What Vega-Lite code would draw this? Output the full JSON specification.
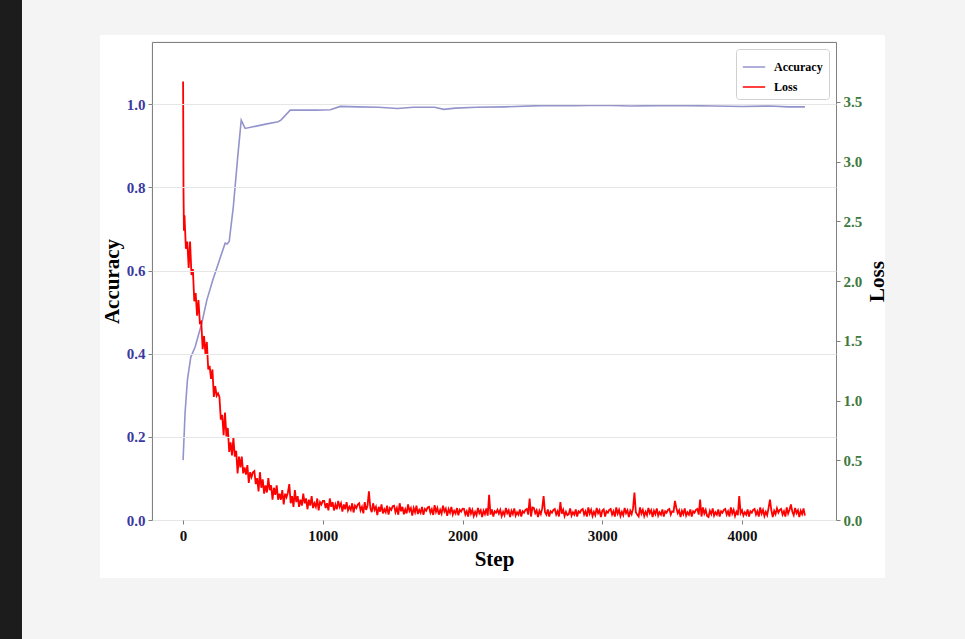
{
  "$schema": "https://vega.github.io/schema/vega-lite/v6.json",
  "width": 684,
  "height": 478,
  "autosize": "none",
  "padding": {"left": 152, "top": 42, "right": 129, "bottom": 119},
  "background": "#f4f4f4",
  "config": {
    "view": {"fill": "white", "stroke": "#808080", "strokeWidth": 1},
    "font": "Liberation Serif",
    "axis": {"grid": false, "domain": false, "labelFont": "Liberation Serif", "labelFontWeight": "bold", "labelFontSize": 15, "titleFont": "Liberation Serif", "titleFontWeight": "bold", "titleFontSize": 21, "titleColor": "#000", "tickColor": "#808080", "tickSize": 4, "labelPadding": 3}
  },
  "datasets": {
    "acc": [
      {"Step": 0, "Accuracy": 0.144}, {"Step": 14, "Accuracy": 0.257}, {"Step": 31, "Accuracy": 0.337}, {"Step": 55, "Accuracy": 0.392},
      {"Step": 86, "Accuracy": 0.416}, {"Step": 134, "Accuracy": 0.474}, {"Step": 170, "Accuracy": 0.529}, {"Step": 212, "Accuracy": 0.577},
      {"Step": 260, "Accuracy": 0.625}, {"Step": 301, "Accuracy": 0.666}, {"Step": 315, "Accuracy": 0.664}, {"Step": 330, "Accuracy": 0.670},
      {"Step": 360, "Accuracy": 0.755}, {"Step": 390, "Accuracy": 0.870}, {"Step": 416, "Accuracy": 0.962}, {"Step": 444, "Accuracy": 0.942},
      {"Step": 500, "Accuracy": 0.946}, {"Step": 600, "Accuracy": 0.953}, {"Step": 680, "Accuracy": 0.958}, {"Step": 700, "Accuracy": 0.962},
      {"Step": 767, "Accuracy": 0.986}, {"Step": 850, "Accuracy": 0.986}, {"Step": 950, "Accuracy": 0.986}, {"Step": 1054, "Accuracy": 0.987},
      {"Step": 1125, "Accuracy": 0.995}, {"Step": 1250, "Accuracy": 0.994}, {"Step": 1400, "Accuracy": 0.993}, {"Step": 1532, "Accuracy": 0.990},
      {"Step": 1650, "Accuracy": 0.993}, {"Step": 1800, "Accuracy": 0.993}, {"Step": 1866, "Accuracy": 0.988}, {"Step": 1950, "Accuracy": 0.991},
      {"Step": 2100, "Accuracy": 0.993}, {"Step": 2300, "Accuracy": 0.994}, {"Step": 2560, "Accuracy": 0.997}, {"Step": 2800, "Accuracy": 0.997},
      {"Step": 3000, "Accuracy": 0.998}, {"Step": 3200, "Accuracy": 0.996}, {"Step": 3400, "Accuracy": 0.997}, {"Step": 3600, "Accuracy": 0.997},
      {"Step": 3800, "Accuracy": 0.996}, {"Step": 4000, "Accuracy": 0.995}, {"Step": 4200, "Accuracy": 0.996}, {"Step": 4330, "Accuracy": 0.994},
      {"Step": 4450, "Accuracy": 0.994}
    ],
    "loss": [
      {"Step":0,"Loss":3.67},{"Step":3,"Loss":2.75},{"Step":6,"Loss":2.42},{"Step":10,"Loss":2.55},{"Step":20,"Loss":2.27},{"Step":30,"Loss":2.33},{"Step":40,"Loss":2.11},{"Step":50,"Loss":2.33},{"Step":60,"Loss":2.05},{"Step":70,"Loss":2.10},{"Step":80,"Loss":1.83},{"Step":90,"Loss":1.90},{"Step":100,"Loss":1.71},
      {"Step":110,"Loss":1.84},{"Step":120,"Loss":1.65},{"Step":130,"Loss":1.66},{"Step":140,"Loss":1.43},{"Step":150,"Loss":1.54},{"Step":160,"Loss":1.39},{"Step":170,"Loss":1.49},{"Step":180,"Loss":1.26},{"Step":190,"Loss":1.29},{"Step":200,"Loss":1.18},
      {"Step":210,"Loss":1.26},{"Step":220,"Loss":1.03},{"Step":230,"Loss":1.12},{"Step":240,"Loss":1.04},{"Step":250,"Loss":1.06},{"Step":260,"Loss":1.03},{"Step":270,"Loss":0.84},{"Step":280,"Loss":0.88},{"Step":290,"Loss":0.71},{"Step":300,"Loss":0.90},
      {"Step":310,"Loss":0.70},{"Step":320,"Loss":0.77},{"Step":330,"Loss":0.57},{"Step":340,"Loss":0.65},{"Step":350,"Loss":0.54},{"Step":360,"Loss":0.69},{"Step":370,"Loss":0.53},{"Step":380,"Loss":0.58},{"Step":390,"Loss":0.39},{"Step":400,"Loss":0.53},
      {"Step":410,"Loss":0.44},{"Step":420,"Loss":0.53},{"Step":430,"Loss":0.39},{"Step":440,"Loss":0.44},{"Step":450,"Loss":0.38},{"Step":460,"Loss":0.46},{"Step":470,"Loss":0.31},{"Step":480,"Loss":0.40},{"Step":490,"Loss":0.36},{"Step":500,"Loss":0.40},
      {"Step":510,"Loss":0.41},{"Step":520,"Loss":0.30},{"Step":530,"Loss":0.35},{"Step":540,"Loss":0.24},{"Step":550,"Loss":0.40},{"Step":560,"Loss":0.27},{"Step":570,"Loss":0.34},{"Step":580,"Loss":0.22},{"Step":590,"Loss":0.29},{"Step":600,"Loss":0.23},
      {"Step":610,"Loss":0.35},{"Step":620,"Loss":0.25},{"Step":630,"Loss":0.29},{"Step":640,"Loss":0.17},{"Step":650,"Loss":0.27},{"Step":660,"Loss":0.21},{"Step":670,"Loss":0.29},{"Step":680,"Loss":0.17},{"Step":690,"Loss":0.22},{"Step":700,"Loss":0.17},
      {"Step":710,"Loss":0.25},{"Step":720,"Loss":0.13},{"Step":730,"Loss":0.22},{"Step":740,"Loss":0.19},{"Step":750,"Loss":0.23},{"Step":760,"Loss":0.30},{"Step":770,"Loss":0.14},{"Step":780,"Loss":0.20},{"Step":790,"Loss":0.11},{"Step":800,"Loss":0.25},
      {"Step":810,"Loss":0.15},{"Step":820,"Loss":0.20},{"Step":830,"Loss":0.11},{"Step":840,"Loss":0.17},{"Step":850,"Loss":0.12},{"Step":860,"Loss":0.22},{"Step":870,"Loss":0.14},{"Step":880,"Loss":0.18},{"Step":890,"Loss":0.09},{"Step":900,"Loss":0.17},
      {"Step":910,"Loss":0.12},{"Step":920,"Loss":0.20},{"Step":930,"Loss":0.10},{"Step":940,"Loss":0.14},{"Step":950,"Loss":0.11},{"Step":960,"Loss":0.18},{"Step":970,"Loss":0.08},{"Step":980,"Loss":0.15},{"Step":990,"Loss":0.13},{"Step":1000,"Loss":0.16},
      {"Step":1010,"Loss":0.16},{"Step":1020,"Loss":0.10},{"Step":1030,"Loss":0.14},{"Step":1040,"Loss":0.08},{"Step":1050,"Loss":0.18},{"Step":1060,"Loss":0.11},{"Step":1070,"Loss":0.15},{"Step":1080,"Loss":0.08},{"Step":1090,"Loss":0.13},{"Step":1100,"Loss":0.09},
      {"Step":1110,"Loss":0.16},{"Step":1120,"Loss":0.11},{"Step":1130,"Loss":0.14},{"Step":1140,"Loss":0.07},{"Step":1150,"Loss":0.13},{"Step":1160,"Loss":0.09},{"Step":1170,"Loss":0.15},{"Step":1180,"Loss":0.08},{"Step":1190,"Loss":0.11},{"Step":1200,"Loss":0.085},
      {"Step":1210,"Loss":0.14},{"Step":1220,"Loss":0.063},{"Step":1230,"Loss":0.12},{"Step":1240,"Loss":0.10},{"Step":1250,"Loss":0.13},{"Step":1260,"Loss":0.14},{"Step":1270,"Loss":0.08},{"Step":1280,"Loss":0.11},{"Step":1290,"Loss":0.056},{"Step":1300,"Loss":0.15},
      {"Step":1310,"Loss":0.084},{"Step":1320,"Loss":0.12},{"Step":1330,"Loss":0.24},{"Step":1340,"Loss":0.10},{"Step":1350,"Loss":0.066},{"Step":1360,"Loss":0.14},{"Step":1370,"Loss":0.084},{"Step":1380,"Loss":0.11},{"Step":1390,"Loss":0.042},{"Step":1400,"Loss":0.11},
      {"Step":1410,"Loss":0.07},{"Step":1420,"Loss":0.13},{"Step":1430,"Loss":0.055},{"Step":1440,"Loss":0.09},{"Step":1450,"Loss":0.065},{"Step":1460,"Loss":0.12},{"Step":1470,"Loss":0.045},{"Step":1480,"Loss":0.10},{"Step":1490,"Loss":0.085},{"Step":1500,"Loss":0.115},
      {"Step":1510,"Loss":0.12},{"Step":1520,"Loss":0.064},{"Step":1530,"Loss":0.10},{"Step":1540,"Loss":0.044},{"Step":1550,"Loss":0.14},{"Step":1560,"Loss":0.073},{"Step":1570,"Loss":0.11},{"Step":1580,"Loss":0.048},{"Step":1590,"Loss":0.09},{"Step":1600,"Loss":0.055},
      {"Step":1610,"Loss":0.13},{"Step":1620,"Loss":0.075},{"Step":1630,"Loss":0.10},{"Step":1640,"Loss":0.037},{"Step":1650,"Loss":0.10},{"Step":1660,"Loss":0.065},{"Step":1670,"Loss":0.12},{"Step":1680,"Loss":0.05},{"Step":1690,"Loss":0.085},{"Step":1700,"Loss":0.06},
      {"Step":1710,"Loss":0.11},{"Step":1720,"Loss":0.043},{"Step":1730,"Loss":0.092},{"Step":1740,"Loss":0.078},{"Step":1750,"Loss":0.105},{"Step":1760,"Loss":0.11},{"Step":1770,"Loss":0.06},{"Step":1780,"Loss":0.09},{"Step":1790,"Loss":0.042},{"Step":1800,"Loss":0.125},
      {"Step":1810,"Loss":0.068},{"Step":1820,"Loss":0.10},{"Step":1830,"Loss":0.045},{"Step":1840,"Loss":0.085},{"Step":1850,"Loss":0.054},{"Step":1860,"Loss":0.12},{"Step":1870,"Loss":0.07},{"Step":1880,"Loss":0.095},{"Step":1890,"Loss":0.035},{"Step":1900,"Loss":0.09},
      {"Step":1910,"Loss":0.06},{"Step":1920,"Loss":0.11},{"Step":1930,"Loss":0.045},{"Step":1940,"Loss":0.078},{"Step":1950,"Loss":0.055},{"Step":1960,"Loss":0.10},{"Step":1970,"Loss":0.04},{"Step":1980,"Loss":0.085},{"Step":1990,"Loss":0.07},{"Step":2000,"Loss":0.095},
      {"Step":2010,"Loss":0.093},{"Step":2020,"Loss":0.045},{"Step":2030,"Loss":0.073},{"Step":2040,"Loss":0.029},{"Step":2050,"Loss":0.105},{"Step":2060,"Loss":0.053},{"Step":2070,"Loss":0.085},{"Step":2080,"Loss":0.033},{"Step":2090,"Loss":0.069},{"Step":2100,"Loss":0.041},
      {"Step":2110,"Loss":0.101},{"Step":2120,"Loss":0.057},{"Step":2130,"Loss":0.081},{"Step":2140,"Loss":0.025},{"Step":2150,"Loss":0.077},{"Step":2160,"Loss":0.049},{"Step":2170,"Loss":0.097},{"Step":2180,"Loss":0.037},{"Step":2190,"Loss":0.21},{"Step":2200,"Loss":0.045},
      {"Step":2210,"Loss":0.089},{"Step":2220,"Loss":0.029},{"Step":2230,"Loss":0.073},{"Step":2240,"Loss":0.061},{"Step":2250,"Loss":0.085},
      {"Step":2260,"Loss":0.053},{"Step":2270,"Loss":0.085},{"Step":2280,"Loss":0.033},{"Step":2290,"Loss":0.069},{"Step":2300,"Loss":0.041},{"Step":2310,"Loss":0.101},{"Step":2320,"Loss":0.057},{"Step":2330,"Loss":0.081},{"Step":2340,"Loss":0.025},{"Step":2350,"Loss":0.077},
      {"Step":2360,"Loss":0.049},{"Step":2370,"Loss":0.097},{"Step":2380,"Loss":0.037},{"Step":2390,"Loss":0.065},{"Step":2400,"Loss":0.045},{"Step":2410,"Loss":0.089},{"Step":2420,"Loss":0.029},{"Step":2430,"Loss":0.073},{"Step":2440,"Loss":0.061},{"Step":2450,"Loss":0.085},
      {"Step":2460,"Loss":0.093},{"Step":2470,"Loss":0.045},{"Step":2480,"Loss":0.18},{"Step":2490,"Loss":0.029},{"Step":2500,"Loss":0.105},
      {"Step":2510,"Loss":0.101},{"Step":2520,"Loss":0.057},{"Step":2530,"Loss":0.081},{"Step":2540,"Loss":0.025},{"Step":2550,"Loss":0.077},{"Step":2560,"Loss":0.049},{"Step":2570,"Loss":0.097},{"Step":2580,"Loss":0.20},{"Step":2590,"Loss":0.065},{"Step":2600,"Loss":0.045},
      {"Step":2610,"Loss":0.089},{"Step":2620,"Loss":0.029},{"Step":2630,"Loss":0.073},{"Step":2640,"Loss":0.061},{"Step":2650,"Loss":0.085},{"Step":2660,"Loss":0.093},{"Step":2670,"Loss":0.045},{"Step":2680,"Loss":0.073},{"Step":2690,"Loss":0.029},{"Step":2700,"Loss":0.15},
      {"Step":2710,"Loss":0.053},{"Step":2720,"Loss":0.085},{"Step":2730,"Loss":0.033},{"Step":2740,"Loss":0.069},{"Step":2750,"Loss":0.041},
      {"Step":2760,"Loss":0.049},{"Step":2770,"Loss":0.097},{"Step":2780,"Loss":0.037},{"Step":2790,"Loss":0.065},{"Step":2800,"Loss":0.045},{"Step":2810,"Loss":0.089},{"Step":2820,"Loss":0.029},{"Step":2830,"Loss":0.073},{"Step":2840,"Loss":0.061},{"Step":2850,"Loss":0.085},
      {"Step":2860,"Loss":0.093},{"Step":2870,"Loss":0.045},{"Step":2880,"Loss":0.073},{"Step":2890,"Loss":0.029},{"Step":2900,"Loss":0.105},{"Step":2910,"Loss":0.053},{"Step":2920,"Loss":0.085},{"Step":2930,"Loss":0.033},{"Step":2940,"Loss":0.069},{"Step":2950,"Loss":0.041},
      {"Step":2960,"Loss":0.101},{"Step":2970,"Loss":0.057},{"Step":2980,"Loss":0.081},{"Step":2990,"Loss":0.025},{"Step":3000,"Loss":0.077},
      {"Step":3010,"Loss":0.089},{"Step":3020,"Loss":0.029},{"Step":3030,"Loss":0.073},{"Step":3040,"Loss":0.061},{"Step":3050,"Loss":0.085},{"Step":3060,"Loss":0.093},{"Step":3070,"Loss":0.045},{"Step":3080,"Loss":0.073},{"Step":3090,"Loss":0.029},{"Step":3100,"Loss":0.105},
      {"Step":3110,"Loss":0.053},{"Step":3120,"Loss":0.085},{"Step":3130,"Loss":0.033},{"Step":3140,"Loss":0.069},{"Step":3150,"Loss":0.041},{"Step":3160,"Loss":0.101},{"Step":3170,"Loss":0.057},{"Step":3180,"Loss":0.081},{"Step":3190,"Loss":0.025},{"Step":3200,"Loss":0.077},
      {"Step":3210,"Loss":0.049},{"Step":3220,"Loss":0.097},{"Step":3230,"Loss":0.23},{"Step":3240,"Loss":0.065},{"Step":3250,"Loss":0.045},
      {"Step":3260,"Loss":0.029},{"Step":3270,"Loss":0.105},{"Step":3280,"Loss":0.053},{"Step":3290,"Loss":0.085},{"Step":3300,"Loss":0.033},{"Step":3310,"Loss":0.069},{"Step":3320,"Loss":0.041},{"Step":3330,"Loss":0.101},{"Step":3340,"Loss":0.057},{"Step":3350,"Loss":0.081},
      {"Step":3360,"Loss":0.025},{"Step":3370,"Loss":0.077},{"Step":3380,"Loss":0.049},{"Step":3390,"Loss":0.097},{"Step":3400,"Loss":0.037},{"Step":3410,"Loss":0.065},{"Step":3420,"Loss":0.045},{"Step":3430,"Loss":0.089},{"Step":3440,"Loss":0.029},{"Step":3450,"Loss":0.073},
      {"Step":3460,"Loss":0.061},{"Step":3470,"Loss":0.085},{"Step":3480,"Loss":0.093},{"Step":3490,"Loss":0.045},{"Step":3500,"Loss":0.073},
      {"Step":3510,"Loss":0.069},{"Step":3520,"Loss":0.16},{"Step":3530,"Loss":0.101},{"Step":3540,"Loss":0.057},{"Step":3550,"Loss":0.081},{"Step":3560,"Loss":0.025},{"Step":3570,"Loss":0.077},{"Step":3580,"Loss":0.049},{"Step":3590,"Loss":0.097},{"Step":3600,"Loss":0.037},
      {"Step":3610,"Loss":0.065},{"Step":3620,"Loss":0.045},{"Step":3630,"Loss":0.089},{"Step":3640,"Loss":0.029},{"Step":3650,"Loss":0.073},{"Step":3660,"Loss":0.061},{"Step":3670,"Loss":0.085},{"Step":3680,"Loss":0.093},{"Step":3690,"Loss":0.045},{"Step":3700,"Loss":0.17},
      {"Step":3710,"Loss":0.029},{"Step":3720,"Loss":0.105},{"Step":3730,"Loss":0.053},{"Step":3740,"Loss":0.085},{"Step":3750,"Loss":0.033},
      {"Step":3760,"Loss":0.025},{"Step":3770,"Loss":0.077},{"Step":3780,"Loss":0.049},{"Step":3790,"Loss":0.097},{"Step":3800,"Loss":0.037},{"Step":3810,"Loss":0.065},{"Step":3820,"Loss":0.045},{"Step":3830,"Loss":0.089},{"Step":3840,"Loss":0.029},{"Step":3850,"Loss":0.073},
      {"Step":3860,"Loss":0.061},{"Step":3870,"Loss":0.085},{"Step":3880,"Loss":0.093},{"Step":3890,"Loss":0.045},{"Step":3900,"Loss":0.073},{"Step":3910,"Loss":0.029},{"Step":3920,"Loss":0.105},{"Step":3930,"Loss":0.053},{"Step":3940,"Loss":0.085},{"Step":3950,"Loss":0.033},
      {"Step":3960,"Loss":0.069},{"Step":3970,"Loss":0.041},{"Step":3980,"Loss":0.20},{"Step":3990,"Loss":0.057},{"Step":4000,"Loss":0.081},
      {"Step":4010,"Loss":0.037},{"Step":4020,"Loss":0.065},{"Step":4030,"Loss":0.045},{"Step":4040,"Loss":0.089},{"Step":4050,"Loss":0.029},{"Step":4060,"Loss":0.073},{"Step":4070,"Loss":0.061},{"Step":4080,"Loss":0.085},{"Step":4090,"Loss":0.093},{"Step":4100,"Loss":0.045},
      {"Step":4110,"Loss":0.073},{"Step":4120,"Loss":0.029},{"Step":4130,"Loss":0.105},{"Step":4140,"Loss":0.053},{"Step":4150,"Loss":0.085},{"Step":4160,"Loss":0.033},{"Step":4170,"Loss":0.069},{"Step":4180,"Loss":0.041},{"Step":4190,"Loss":0.101},{"Step":4200,"Loss":0.17},
      {"Step":4210,"Loss":0.081},{"Step":4220,"Loss":0.025},{"Step":4230,"Loss":0.077},{"Step":4240,"Loss":0.049},{"Step":4250,"Loss":0.097},
      {"Step":4260,"Loss":0.061},{"Step":4270,"Loss":0.085},{"Step":4280,"Loss":0.093},{"Step":4290,"Loss":0.045},{"Step":4300,"Loss":0.073},{"Step":4310,"Loss":0.029},{"Step":4320,"Loss":0.105},{"Step":4330,"Loss":0.053},{"Step":4340,"Loss":0.085},{"Step":4350,"Loss":0.13},
      {"Step":4360,"Loss":0.069},{"Step":4370,"Loss":0.041},{"Step":4380,"Loss":0.101},{"Step":4390,"Loss":0.057},{"Step":4400,"Loss":0.081},{"Step":4410,"Loss":0.025},{"Step":4420,"Loss":0.077},{"Step":4430,"Loss":0.049},{"Step":4440,"Loss":0.097},{"Step":4450,"Loss":0.037}
    ]
  },
  "layer": [
    {
      "data": {"values": [{}]},
      "mark": {"type": "rect", "color": "#1c1c1c"},
      "encoding": {
        "x": {"datum": -1320, "type": "quantitative", "scale": {"domain": [-222.5, 4672.5], "nice": false, "zero": false}},
        "x2": {"datum": -1153},
        "y": {"datum": -0.3, "type": "quantitative", "scale": {"domain": [0, 1.15], "nice": false, "zero": false}, "axis": null},
        "y2": {"datum": 1.3}
      }
    },
    {
      "data": {"values": [{}]},
      "mark": {"type": "rect", "color": "white"},
      "encoding": {
        "x": {"datum": -594.6, "type": "quantitative", "scale": {"domain": [-222.5, 4672.5], "nice": false, "zero": false}},
        "x2": {"datum": -229.7},
        "y": {"datum": -0.1395, "type": "quantitative", "scale": {"domain": [0, 1.15], "nice": false, "zero": false}, "axis": null},
        "y2": {"datum": 1.1669}
      }
    },
    {
      "data": {"values": [{}]},
      "mark": {"type": "rect", "color": "white"},
      "encoding": {
        "x": {"datum": 4679.7, "type": "quantitative", "scale": {"domain": [-222.5, 4672.5], "nice": false, "zero": false}},
        "x2": {"datum": 5023.1},
        "y": {"datum": -0.1395, "type": "quantitative", "scale": {"domain": [0, 1.15], "nice": false, "zero": false}, "axis": null},
        "y2": {"datum": 1.1669}
      }
    },
    {
      "data": {"values": [{}]},
      "mark": {"type": "rect", "color": "white"},
      "encoding": {
        "x": {"datum": -229.7, "type": "quantitative", "scale": {"domain": [-222.5, 4672.5], "nice": false, "zero": false}},
        "x2": {"datum": 4679.7},
        "y": {"datum": 1.1524, "type": "quantitative", "scale": {"domain": [0, 1.15], "nice": false, "zero": false}, "axis": null},
        "y2": {"datum": 1.1669}
      }
    },
    {
      "data": {"values": [{}]},
      "mark": {"type": "rect", "color": "white"},
      "encoding": {
        "x": {"datum": -229.7, "type": "quantitative", "scale": {"domain": [-222.5, 4672.5], "nice": false, "zero": false}},
        "x2": {"datum": 4679.7},
        "y": {"datum": -0.1395, "type": "quantitative", "scale": {"domain": [0, 1.15], "nice": false, "zero": false}, "axis": null},
        "y2": {"datum": -0.0024}
      }
    },
    {
      "data": {"name": "acc"},
      "mark": {"type": "line", "strokeWidth": 1.6},
      "encoding": {
        "x": {"field": "Step", "type": "quantitative", "scale": {"domain": [-222.5, 4672.5], "nice": false, "zero": false},
              "axis": {"zindex": 2, "title": "Step", "values": [0, 1000, 2000, 3000, 4000], "format": "d", "labelColor": "#111", "labelPadding": 4, "titlePadding": 5}},
        "y": {"field": "Accuracy", "type": "quantitative", "scale": {"domain": [0, 1.15], "nice": false, "zero": false},
              "axis": {"zindex": 2, "orient": "left", "title": "Accuracy", "values": [0, 0.2, 0.4, 0.6, 0.8, 1.0], "format": ".1f", "labelColor": "#3a3a9e", "grid": true, "gridColor": "#e6e6e6", "titlePadding": 4}},
        "color": {"datum": "Accuracy", "type": "nominal",
                  "scale": {"domain": ["Accuracy", "Loss"], "range": ["#9494cc", "#ff0000"]},
                  "legend": {"orient": "top-right", "offset": 7, "title": null, "symbolType": "stroke", "symbolSize": 500, "symbolStrokeWidth": 1.5,
                             "labelFont": "Liberation Serif", "labelFontWeight": "bold", "labelFontSize": 12, "labelColor": "#000", "labelOffset": 8,
                             "padding": 6, "rowPadding": 2, "fillColor": "white", "strokeColor": "#d0d0d0", "cornerRadius": 3}}
      }
    },
    {
      "data": {"name": "loss"},
      "mark": {"type": "line", "strokeWidth": 1.8},
      "encoding": {
        "x": {"field": "Step", "type": "quantitative", "scale": {"domain": [-222.5, 4672.5], "nice": false, "zero": false}},
        "y": {"field": "Loss", "type": "quantitative", "scale": {"domain": [0, 4.0], "nice": false, "zero": false},
              "axis": {"zindex": 2, "orient": "right", "title": "Loss", "values": [0, 0.5, 1.0, 1.5, 2.0, 2.5, 3.0, 3.5], "format": ".1f", "labelColor": "#3d7a3d", "titleAngle": 270, "titleBaseline": "top", "titlePadding": 5}},
        "color": {"datum": "Loss", "type": "nominal"}
      }
    }
  ],
  "resolve": {"scale": {"y": "independent"}, "axis": {"y": "independent"}}
}
